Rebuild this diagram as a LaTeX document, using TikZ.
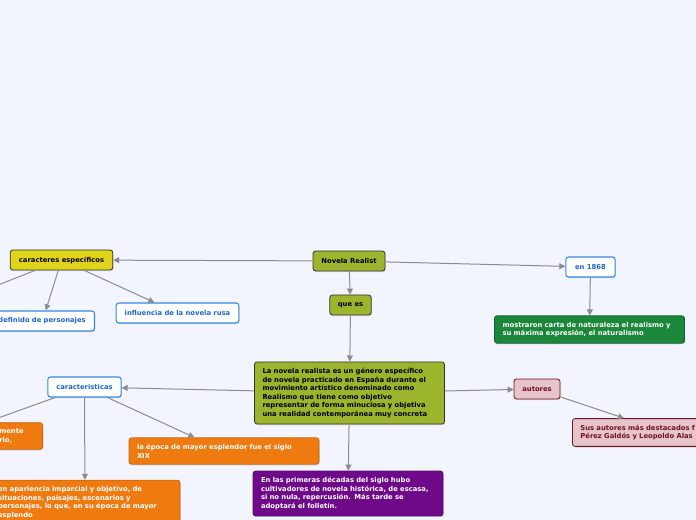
\documentclass[tikz,border=0pt]{standalone}
\usepackage{fontspec}
\setmainfont{DejaVu Sans}
\usepackage{tikz}
\usetikzlibrary{shadows}
\usetikzlibrary{calc}
\usetikzlibrary{arrows.meta}
\usepackage{xcolor}

\definecolor{bgc}{RGB}{242,245,253}
\definecolor{olv}{RGB}{155,181,45}
\definecolor{ylw}{RGB}{224,212,26}
\definecolor{blu}{RGB}{52,136,228}
\definecolor{bluT}{RGB}{28,104,204}
\definecolor{grn}{RGB}{26,135,58}
\definecolor{pnk}{RGB}{231,196,201}
\definecolor{wine}{RGB}{107,20,38}
\definecolor{org}{RGB}{238,122,16}
\definecolor{prp}{RGB}{110,10,138}
\definecolor{edg}{RGB}{140,140,140}

\begin{document}
\begin{tikzpicture}[x=0.75pt,y=0.75pt,yscale=-1,xscale=1,
  box/.style={rounded corners=2pt,font=\fontsize{5.1}{6.45}\selectfont\bfseries,
    inner xsep=6pt,inner ysep=4.6pt,align=left,line width=0.6pt,
    drop shadow={shadow xshift=0.5pt,shadow yshift=-0.9pt,opacity=0.25}},
  one/.style={box,inner ysep=0pt,minimum height=15pt,align=center},
  olvbox/.style={fill=olv,draw=black!80,text=black},
  ylwbox/.style={fill=ylw,draw=black!80,text=black},
  blubox/.style={fill=white,draw=blu,text=bluT,line width=0.8pt},
  grnbox/.style={fill=grn,draw=grn!70!black,text=white},
  pnkbox/.style={fill=pnk,draw=wine,text=wine},
  orgbox/.style={fill=org,draw=org!85!black,text=white},
  prpbox/.style={fill=prp,draw=prp!80!black,text=white},
  wide/.style={minimum width=142.5pt,text width=130.5pt},
  conn/.style={draw=edg,line width=0.75pt,-{Triangle[length=4.5pt,width=4.5pt]}}
]
\path[use as bounding box,fill=bgc] (0,0) rectangle (696,520);
\clip (0,0) rectangle (696,520);

% Text Node
\node (nr) [one,olvbox,minimum width=54pt] at (349,261) {Novela Realist};
% Text Node
\node (qe) [one,olvbox,minimum width=30.75pt] at (350.5,305) {que es};
% Text Node
\node (def) [box,olvbox,wide] at (349.5,393) {La novela realista es un género específico\\de novela practicado en España durante el\\movimiento artístico denominado como\\Realismo que tiene como objetivo\\representar de forma minuciosa y objetiva\\una realidad contemporánea muy concreta};
% Text Node
\node (ce) [one,ylwbox,minimum width=77pt] at (61.5,260) {caracteres específicos};
% Text Node
\node (dp) [one,blubox,text width=66pt,align=left,anchor=east] at (95,321) {definido de personajes};
% Text Node
\node (nru) [one,blubox,minimum width=92pt] at (177.5,313) {influencia de la novela rusa};
% Text Node
\node (yr) [one,blubox,minimum width=37pt] at (590.5,267) {en 1868};
% Text Node
\node (nat) [box,grnbox,wide] at (589.5,329.5) {mostraron carta de naturaleza el realismo y\\su máxima expresión, el naturalismo};
% Text Node
\node (car) [one,blubox,minimum width=55pt] at (84.5,387) {caracteristicas};
% Text Node
\node (au) [one,pnkbox,minimum width=34.5pt] at (537,389) {autores};
% Text Node
\node (sus) [box,pnkbox,text width=120pt,anchor=west] at (572,432.5) {Sus autores más destacados f\\Pérez Galdós y Leopoldo Alas};
% Text Node
\node (om) [box,orgbox,text width=26.5pt,anchor=east] at (43,436) {mente\\rio,};
% Text Node
\node (ep) [box,orgbox,wide] at (224,451) {la época de mayor esplendor fue el siglo\\XIX};
% Text Node
\node (ob) [box,orgbox,wide] at (85,502.5) {en apariencia imparcial y objetivo, de\\situaciones, paisajes, escenarios y\\personajes, lo que, en su época de mayor\\esplendo};
% Text Node
\node (fol) [box,prpbox,wide] at (348,493.5) {En las primeras décadas del siglo hubo\\cultivadores de novela histórica, de escasa,\\si no nula, repercusión. Más tarde se\\adoptará el folletín.};

% free ends off the left edge
\coordinate (ceOff) at (-40,300);
\coordinate (omIn) at (-52,436);

% Straight Lines
\draw [conn] (nr) -- (ce);
\draw [conn] (nr) -- (yr);
\draw [conn] (nr) -- (qe);
\draw [conn] (qe) -- (def);
\draw [conn] (ce) -- (dp);
\draw [conn] (ce) -- (nru);
\draw [conn] (ce) -- (ceOff);
\draw [conn] (yr) -- (nat);
\draw [conn] (def) -- (car);
\draw [conn] (def) -- (au);
\draw [conn] (au) -- ($(sus.north west)+(52,0)$);
\draw [conn] (def) -- (fol);
\draw [conn] (car) -- (omIn);
\draw [conn] (car) -- (ob);
\draw [conn] (car) -- (ep);

\end{tikzpicture}
\end{document}
